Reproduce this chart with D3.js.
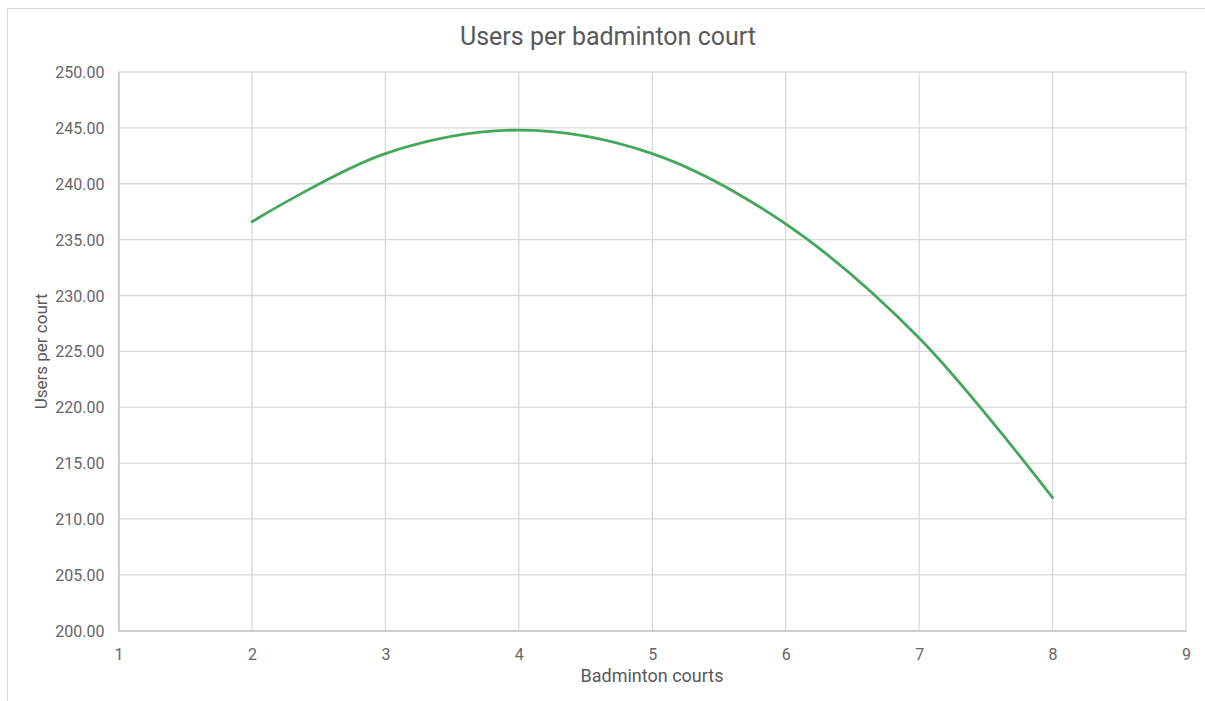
<!DOCTYPE html>
<html>
<head>
<meta charset="utf-8">
<script src="https://cdn.jsdelivr.net/npm/d3@7"></script>
<style>
  html, body { margin: 0; padding: 0; background: #fff; }
  svg { display: block; font-family: Roboto, "Noto Sans", sans-serif; }
</style>
</head>
<body>
<svg id="chart" width="1205" height="701"></svg>
<script>
// Courts available and the resulting average users per court
const courts = [2, 3, 4, 5, 6, 7, 8];
const usersPerCourt = [236.6, 242.7, 244.8, 242.7, 236.4, 226.2, 211.9];
const xTicks = [1, 2, 3, 4, 5, 6, 7, 8, 9];
const yTicks = [200, 205, 210, 215, 220, 225, 230, 235, 240, 245, 250];

const svg = d3.select("#chart");
const W = 1205, H = 701;
const plot = { left: 118.5, right: 1186, top: 72, bottom: 630.7 };

// chart frame
svg.append("rect")
  .attr("x", 7.5).attr("y", 8.5)
  .attr("width", W + 20).attr("height", H + 20)
  .attr("fill", "#fff").attr("stroke", "#d9d9d9").attr("stroke-width", 1);

const x = d3.scaleLinear().domain([1, 9]).range([plot.left, plot.right]);
const y = d3.scaleLinear().domain([200, 250]).range([plot.bottom, plot.top]);

// gridlines
const grid = svg.append("g").attr("stroke", "#d9d9d9").attr("stroke-width", 1.3);
grid.selectAll("line.v").data(xTicks).join("line")
  .attr("x1", d => x(d)).attr("x2", d => x(d))
  .attr("y1", plot.top).attr("y2", plot.bottom);
grid.selectAll("line.h").data(yTicks).join("line")
  .attr("x1", plot.left).attr("x2", plot.right)
  .attr("y1", d => y(d)).attr("y2", d => y(d));

// axes
const xAxis = svg.append("g")
  .attr("transform", `translate(0,${plot.bottom})`)
  .call(d3.axisBottom(x).tickValues(xTicks).tickFormat(d3.format("d")).tickSize(0).tickPadding(18));
const yAxis = svg.append("g")
  .attr("transform", `translate(${plot.left},0)`)
  .call(d3.axisLeft(y).tickValues(yTicks).tickFormat(d3.format(".2f")).tickSize(0).tickPadding(14));

[xAxis, yAxis].forEach(a => {
  a.select(".domain").attr("stroke", "#bfbfbf").attr("stroke-width", 1.3);
  a.selectAll("text").attr("fill", "#666666").style("font-size", "16px")
    .style("font-family", "Roboto, 'Noto Sans', sans-serif");
});
yAxis.selectAll("text").attr("dy", "0.35em");

// data line
const line = d3.line()
  .x((d, i) => x(courts[i]))
  .y(d => y(d))
  .curve(d3.curveCatmullRom.alpha(0.5));

svg.append("path")
  .datum(usersPerCourt)
  .attr("d", line)
  .attr("fill", "none")
  .attr("stroke", "#43a85b")
  .attr("stroke-width", 2.8)
  .attr("stroke-linecap", "round")
  .attr("stroke-linejoin", "round");

// titles
svg.append("text")
  .attr("x", 608).attr("y", 45)
  .attr("text-anchor", "middle")
  .attr("fill", "#595959")
  .style("font-size", "25px")
  .text("Users per badminton court");

svg.append("text")
  .attr("x", 652).attr("y", 682)
  .attr("text-anchor", "middle")
  .attr("fill", "#595959")
  .style("font-size", "18px")
  .text("Badminton courts");

svg.append("text")
  .attr("transform", `translate(47,${(plot.top + plot.bottom) / 2}) rotate(-90)`)
  .attr("text-anchor", "middle")
  .attr("fill", "#595959")
  .style("font-size", "17px")
  .text("Users per court");
</script>
</body>
</html>
